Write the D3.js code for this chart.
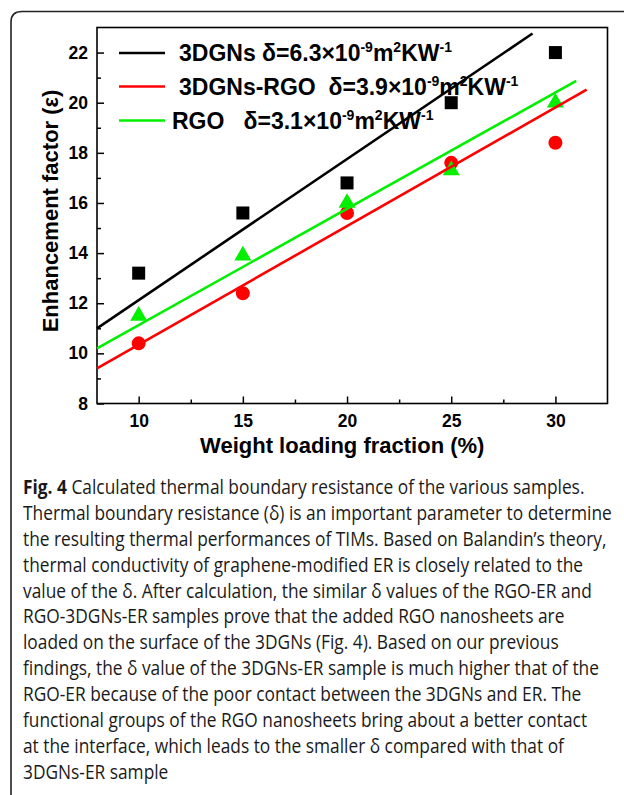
<!DOCTYPE html>
<html>
<head>
<meta charset="utf-8">
<script src="https://cdn.jsdelivr.net/npm/d3@7"></script>
<style>
	body { margin: 0; background: #fff; }
	svg { display: block; }
</style>
</head>
<body>
<div id="chart"></div>
<script>
// weight loading fraction (%)
var loadings = [10, 15, 20, 25, 30];
// enhancement factor values
var gnsVals = [13.2, 15.6, 16.8, 20.0, 22.0];
var gnsRgoVals = [10.4, 12.4, 15.6, 17.6, 18.4];
var rgoVals = [11.5, 13.9, 16.0, 17.3, 20.0];
// model lines, start and end points [x, y]
var gnsFit = [[8, 11.0], [28.9, 22.76]];
var gnsRgoFit = [[8, 9.4], [31.5, 20.52]];
var rgoFit = [[8, 10.2], [31.0, 20.87]];
// legend
var seriesNames = ["3DGNs", "3DGNs-RGO", "RGO"];
var seriesGaps = [" ", "  ", "   "];
var deltaVals = ["6.3", "3.9", "3.1"];
var xTicks = [10, 15, 20, 25, 30];
var xMinor = [12.5, 17.5, 22.5, 27.5];
var yTicks = [8, 10, 12, 14, 16, 18, 20, 22];
var yMinor = [9, 11, 13, 15, 17, 19, 21];

var captionLines = [
	" Calculated thermal boundary resistance of the various samples.",
	"Thermal boundary resistance (δ) is an important parameter to determine",
	"the resulting thermal performances of TIMs. Based on Balandin’s theory,",
	"thermal conductivity of graphene-modified ER is closely related to the",
	"value of the δ. After calculation, the similar δ values of the RGO-ER and",
	"RGO-3DGNs-ER samples prove that the added RGO nanosheets are",
	"loaded on the surface of the 3DGNs (Fig. 4). Based on our previous",
	"findings, the δ value of the 3DGNs-ER sample is much higher that of the",
	"RGO-ER because of the poor contact between the 3DGNs and ER. The",
	"functional groups of the RGO nanosheets bring about a better contact",
	"at the interface, which leads to the smaller δ compared with that of",
	"3DGNs-ER sample"
];

var W = 624, H = 795;
var plot = { left: 97, right: 607.5, top: 27.5, bottom: 403.5 };
var font = "'Liberation Sans', Arial, sans-serif";

var svg = d3.select("#chart").append("svg")
	.attr("width", W)
	.attr("height", H);

// outer figure border (rounded top-left, cut on right/bottom)
svg.append("path")
	.attr("d", "M11,795 V22 Q11,11.5 22,11.5 H624")
	.attr("fill", "none")
	.attr("stroke", "#222")
	.attr("stroke-width", 1.6);

var x = d3.scaleLinear().domain([8, 32.5]).range([plot.left, plot.right]);
var y = d3.scaleLinear().domain([8, 23]).range([plot.bottom, plot.top]);

var g = svg.append("g");

// ticks (inward)
function styleAxis(sel, size) {
	sel.select(".domain").remove();
	sel.selectAll("line").attr("stroke", "#000").attr("stroke-width", 1.5);
	sel.selectAll("text")
		.attr("font-family", font)
		.attr("font-weight", "bold")
		.attr("font-size", size)
		.attr("fill", "#000");
}

g.append("g")
	.attr("transform", "translate(0," + plot.bottom + ")")
	.call(d3.axisBottom(x).tickValues(xTicks).tickSizeInner(-7).tickSizeOuter(0).tickPadding(11))
	.call(styleAxis, 17.5);
g.append("g")
	.attr("transform", "translate(0," + plot.bottom + ")")
	.call(d3.axisBottom(x).tickValues(xMinor).tickSizeInner(-4).tickSizeOuter(0).tickFormat(""))
	.call(styleAxis, 17.5);
g.append("g")
	.attr("transform", "translate(" + plot.left + ",0)")
	.call(d3.axisLeft(y).tickValues(yTicks).tickSizeInner(-7).tickSizeOuter(0).tickPadding(9))
	.call(styleAxis, 17.5);
g.append("g")
	.attr("transform", "translate(" + plot.left + ",0)")
	.call(d3.axisLeft(y).tickValues(yMinor).tickSizeInner(-4).tickSizeOuter(0).tickFormat(""))
	.call(styleAxis, 17.5);

// frame
g.append("rect")
	.attr("x", plot.left)
	.attr("y", plot.top)
	.attr("width", plot.right - plot.left)
	.attr("height", plot.bottom - plot.top)
	.attr("fill", "none")
	.attr("stroke", "#000")
	.attr("stroke-width", 1.6);

// axis titles
g.append("text")
	.attr("x", (plot.left + plot.right) / 2 - 10)
	.attr("y", 453)
	.attr("text-anchor", "middle")
	.attr("font-family", font)
	.attr("font-weight", "bold")
	.attr("font-size", 22)
	.text("Weight loading fraction (%)");

g.append("text")
	.attr("transform", "translate(58,211) rotate(-90)")
	.attr("text-anchor", "middle")
	.attr("font-family", font)
	.attr("font-weight", "bold")
	.attr("font-size", 22)
	.text("Enhancement factor (ε)");

var series = [
	{ vals: gnsVals, fit: gnsFit, color: "#000000", shape: d3.symbolSquare, size: 169 },
	{ vals: gnsRgoVals, fit: gnsRgoFit, color: "#ff0000", shape: d3.symbolCircle, size: 154 },
	{ vals: rgoVals, fit: rgoFit, color: "#00f000", shape: d3.symbolTriangle, size: 125 }
];

var line = d3.line()
	.x(function (d) { return x(d[0]); })
	.y(function (d) { return y(d[1]); });

// points first, then lines drawn over them as in the figure
series.forEach(function (s) {
	g.selectAll(null)
		.data(s.vals)
		.enter()
		.append("path")
		.attr("transform", function (d, i) {
			return "translate(" + x(loadings[i]) + "," + y(d) + ")";
		})
		.attr("d", d3.symbol().type(s.shape).size(s.size))
		.attr("fill", s.color);
});
series.forEach(function (s) {
	g.append("path")
		.datum(s.fit)
		.attr("d", line)
		.attr("fill", "none")
		.attr("stroke", s.color)
		.attr("stroke-width", 2.6);
});

// legend
var legY = [53, 86.5, 120.5];
var legend = g.append("g");
seriesNames.forEach(function (name, i) {
	legend.append("line")
		.attr("x1", 119).attr("x2", 165)
		.attr("y1", legY[i]).attr("y2", legY[i])
		.attr("stroke", series[i].color)
		.attr("stroke-width", 2.6);
	var t = legend.append("text")
		.attr("x", i == 2 ? 172 : 179)
		.attr("y", legY[i] + 8)
		.attr("font-family", font)
		.attr("font-weight", "bold")
		.attr("font-size", 23)
		.style("white-space", "pre");
	t.append("tspan").text(name + seriesGaps[i] + "δ=" + deltaVals[i] + "×10");
	t.append("tspan").attr("dy", -9).attr("font-size", 14).text("-9");
	t.append("tspan").attr("dy", 9).text("m");
	t.append("tspan").attr("dy", -9).attr("font-size", 14).text("2");
	t.append("tspan").attr("dy", 9).text("KW");
	t.append("tspan").attr("dy", -9).attr("font-size", 14).text("-1");
});

// caption
var cap = svg.append("g").attr("transform", "translate(23,0)");
var capFont = "'Open Sans', 'Noto Sans', sans-serif";
var capTexts = [];
captionLines.forEach(function (txt, i) {
	var t = cap.append("text")
		.attr("x", 0)
		.attr("y", 494 + i * 25.9)
		.attr("font-family", capFont)
		.attr("font-size", 19.5)
		.attr("fill", "#1a1a1a")
		.style("white-space", "pre");
	if (i == 0) {
		t.append("tspan").attr("font-weight", "bold").text("Fig. 4");
	}
	t.append("tspan").text(txt);
	capTexts.push(t);
});
// squeeze the caption horizontally so the longest line fits the column
var widest = d3.max(capTexts, function (t) { return t.node().getComputedTextLength(); });
var sx = 589 / widest;
cap.attr("transform", "translate(23,0) scale(" + sx + ",1)");
</script>
</body>
</html>
